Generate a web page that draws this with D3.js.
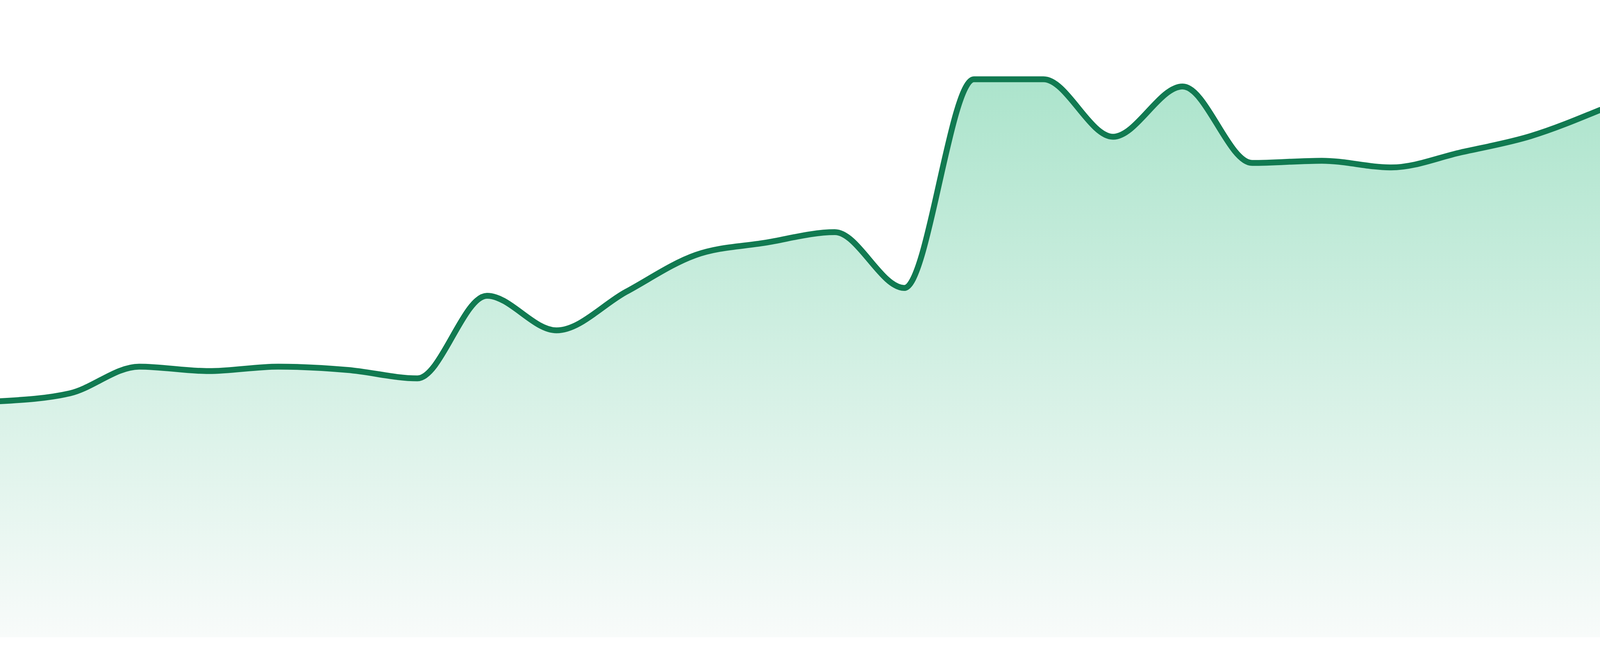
<!DOCTYPE html>
<html>
<head>
<meta charset="utf-8">
<title>area</title>
<script src="https://cdn.jsdelivr.net/npm/d3@7"></script>
<style>
  html, body { margin: 0; padding: 0; background: #ffffff; overflow: hidden; }
  svg { display: block; }
</style>
</head>
<body>
<svg id="chart"></svg>
<script>
// one value per step
const steps = d3.range(24);
const values = [42.3, 43.7, 48.5, 47.7, 48.5, 47.9, 46.4, 61.2, 55.0, 61.9, 68.5, 70.7,
                72.6, 62.6, 100, 100, 89.7, 98.7, 85.0, 85.4, 84.2, 86.9, 89.8, 94.5];

// fit whatever the window really is (designed for 4800 x 1680)
const width = window.innerWidth || 4800;
const height = window.innerHeight || 1680;
const baseY = height * 1632 / 1680; // fill stops a bit above the page edge
const peakY = height * 203 / 1680;

const svg = d3.select("#chart")
    .attr("width", width)
    .attr("height", height);

const x = d3.scaleLinear().domain([0, steps.length - 1]).range([0, width]);
const y = d3.scaleLinear().domain([0, d3.max(values)]).range([baseY, peakY]);

// green fade under the line
const grad = svg.append("defs").append("linearGradient")
    .attr("id", "fade")
    .attr("x1", 0).attr("y1", 0)
    .attr("x2", 0).attr("y2", 1);
grad.append("stop").attr("offset", "0%").attr("stop-color", "#ace4cc");
grad.append("stop").attr("offset", "100%").attr("stop-color", "#f8fbfa");

const area = d3.area()
    .x((d, i) => x(steps[i]))
    .y0(baseY)
    .y1(d => y(d))
    .curve(d3.curveMonotoneX);

const line = d3.line()
    .x((d, i) => x(steps[i]))
    .y(d => y(d))
    .curve(d3.curveMonotoneX);

svg.append("path")
    .datum(values)
    .attr("d", area)
    .attr("fill", "url(#fade)");

svg.append("path")
    .datum(values)
    .attr("d", line)
    .attr("fill", "none")
    .attr("stroke", "#117a51")
    .attr("stroke-width", 15)
    .attr("stroke-linejoin", "round")
    .attr("stroke-linecap", "round");
</script>
</body>
</html>
